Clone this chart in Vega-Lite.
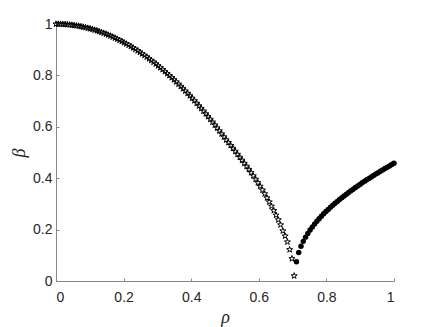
{
  "$schema": "https://vega.github.io/schema/vega-lite/v6.json",
  "width": 338,
  "height": 257,
  "autosize": {"type": "none"},
  "padding": {"left": 56, "top": 24, "right": 42, "bottom": 46},
  "background": "white",
  "config": {
    "view": {"stroke": null},
    "axis": {
      "grid": false,
      "domainColor": "#888888",
      "domainWidth": 1,
      "tickColor": "#888888",
      "tickSize": -3,
      "tickWidth": 1,
      "labelFont": "Liberation Sans",
      "labelFontSize": 14,
      "labelColor": "#262626",
      "titleFont": "Liberation Serif",
      "titleFontStyle": "italic",
      "titleFontWeight": "normal",
      "titleFontSize": 18,
      "titleColor": "#262626"
    }
  },
  "data": {"values": [
    {"r":0,"b":1,"s":"star"},{"r":0.0067,"b":1.0,"s":"star"},{"r":0.0134,"b":0.9997,"s":"star"},{"r":0.0201,"b":0.9993,"s":"star"},{"r":0.0268,"b":0.9987,"s":"star"},{"r":0.0336,"b":0.998,"s":"star"},{"r":0.0403,"b":0.9971,"s":"star"},{"r":0.047,"b":0.9961,"s":"star"},{"r":0.0537,"b":0.9949,"s":"star"},{"r":0.0604,"b":0.9935,"s":"star"},
    {"r":0.0671,"b":0.992,"s":"star"},{"r":0.0738,"b":0.9903,"s":"star"},{"r":0.0805,"b":0.9885,"s":"star"},{"r":0.0872,"b":0.9865,"s":"star"},{"r":0.094,"b":0.9843,"s":"star"},{"r":0.1007,"b":0.982,"s":"star"},{"r":0.1074,"b":0.9795,"s":"star"},{"r":0.1141,"b":0.9768,"s":"star"},{"r":0.1208,"b":0.974,"s":"star"},{"r":0.1275,"b":0.9711,"s":"star"},
    {"r":0.1342,"b":0.9679,"s":"star"},{"r":0.1409,"b":0.9646,"s":"star"},{"r":0.1477,"b":0.9612,"s":"star"},{"r":0.1544,"b":0.9576,"s":"star"},{"r":0.1611,"b":0.9538,"s":"star"},{"r":0.1678,"b":0.9499,"s":"star"},{"r":0.1745,"b":0.9458,"s":"star"},{"r":0.1812,"b":0.9416,"s":"star"},{"r":0.1879,"b":0.9371,"s":"star"},{"r":0.1946,"b":0.9326,"s":"star"},
    {"r":0.2013,"b":0.9278,"s":"star"},{"r":0.2081,"b":0.9229,"s":"star"},{"r":0.2148,"b":0.9179,"s":"star"},{"r":0.2215,"b":0.9127,"s":"star"},{"r":0.2282,"b":0.9073,"s":"star"},{"r":0.2349,"b":0.9018,"s":"star"},{"r":0.2416,"b":0.8961,"s":"star"},{"r":0.2483,"b":0.8902,"s":"star"},{"r":0.255,"b":0.8842,"s":"star"},{"r":0.2617,"b":0.8781,"s":"star"},
    {"r":0.2685,"b":0.8717,"s":"star"},{"r":0.2752,"b":0.8652,"s":"star"},{"r":0.2819,"b":0.8586,"s":"star"},{"r":0.2886,"b":0.8518,"s":"star"},{"r":0.2953,"b":0.8448,"s":"star"},{"r":0.302,"b":0.8376,"s":"star"},{"r":0.3087,"b":0.8303,"s":"star"},{"r":0.3154,"b":0.8229,"s":"star"},{"r":0.3221,"b":0.8153,"s":"star"},{"r":0.3289,"b":0.8075,"s":"star"},
    {"r":0.3356,"b":0.7996,"s":"star"},{"r":0.3423,"b":0.7915,"s":"star"},{"r":0.349,"b":0.7832,"s":"star"},{"r":0.3557,"b":0.7748,"s":"star"},{"r":0.3624,"b":0.7662,"s":"star"},{"r":0.3691,"b":0.7575,"s":"star"},{"r":0.3758,"b":0.7486,"s":"star"},{"r":0.3826,"b":0.7395,"s":"star"},{"r":0.3893,"b":0.7303,"s":"star"},{"r":0.396,"b":0.7209,"s":"star"},
    {"r":0.4027,"b":0.7114,"s":"star"},{"r":0.4094,"b":0.7017,"s":"star"},{"r":0.4161,"b":0.6918,"s":"star"},{"r":0.4228,"b":0.6818,"s":"star"},{"r":0.4295,"b":0.6716,"s":"star"},{"r":0.4362,"b":0.6613,"s":"star"},{"r":0.443,"b":0.6507,"s":"star"},{"r":0.4497,"b":0.6401,"s":"star"},{"r":0.4564,"b":0.6293,"s":"star"},{"r":0.4631,"b":0.6183,"s":"star"},
    {"r":0.4698,"b":0.6071,"s":"star"},{"r":0.4765,"b":0.5958,"s":"star"},{"r":0.4832,"b":0.5844,"s":"star"},{"r":0.4899,"b":0.5727,"s":"star"},{"r":0.4966,"b":0.561,"s":"star"},{"r":0.5034,"b":0.549,"s":"star"},{"r":0.5101,"b":0.5389,"s":"star"},{"r":0.5168,"b":0.5276,"s":"star"},{"r":0.5235,"b":0.5162,"s":"star"},{"r":0.5302,"b":0.5046,"s":"star"},
    {"r":0.5369,"b":0.4929,"s":"star"},{"r":0.5436,"b":0.4815,"s":"star"},{"r":0.5503,"b":0.4699,"s":"star"},{"r":0.557,"b":0.4582,"s":"star"},{"r":0.5638,"b":0.4463,"s":"star"},{"r":0.5705,"b":0.4342,"s":"star"},{"r":0.5772,"b":0.422,"s":"star"},{"r":0.5839,"b":0.4091,"s":"star"},{"r":0.5906,"b":0.3961,"s":"star"},{"r":0.5973,"b":0.3824,"s":"star"},
    {"r":0.604,"b":0.3686,"s":"star"},{"r":0.6107,"b":0.3541,"s":"star"},{"r":0.6174,"b":0.3394,"s":"star"},{"r":0.6242,"b":0.3235,"s":"star"},{"r":0.6309,"b":0.3076,"s":"star"},{"r":0.6376,"b":0.2909,"s":"star"},{"r":0.6443,"b":0.2741,"s":"star"},{"r":0.651,"b":0.2561,"s":"star"},{"r":0.6577,"b":0.238,"s":"star"},{"r":0.6644,"b":0.2185,"s":"star"},
    {"r":0.6711,"b":0.195,"s":"star"},{"r":0.6779,"b":0.175,"s":"star"},{"r":0.6846,"b":0.152,"s":"star"},{"r":0.6913,"b":0.122,"s":"star"},{"r":0.698,"b":0.087,"s":"star"},{"r":0.7047,"b":0.02,"s":"star"},
    {"r":0.7114,"b":0.0752,"s":"dot"},{"r":0.7181,"b":0.1108,"s":"dot"},{"r":0.7248,"b":0.1349,"s":"dot"},{"r":0.7315,"b":0.1542,"s":"dot"},{"r":0.7383,"b":0.1707,"s":"dot"},{"r":0.745,"b":0.1853,"s":"dot"},{"r":0.7517,"b":0.1984,"s":"dot"},{"r":0.7584,"b":0.2106,"s":"dot"},{"r":0.7651,"b":0.2219,"s":"dot"},{"r":0.7718,"b":0.2325,"s":"dot"},
    {"r":0.7785,"b":0.2426,"s":"dot"},{"r":0.7852,"b":0.2521,"s":"dot"},{"r":0.7919,"b":0.2613,"s":"dot"},{"r":0.7987,"b":0.2701,"s":"dot"},{"r":0.8054,"b":0.2785,"s":"dot"},{"r":0.8121,"b":0.2867,"s":"dot"},{"r":0.8188,"b":0.2946,"s":"dot"},{"r":0.8255,"b":0.3022,"s":"dot"},{"r":0.8322,"b":0.3097,"s":"dot"},{"r":0.8389,"b":0.317,"s":"dot"},
    {"r":0.8456,"b":0.3241,"s":"dot"},{"r":0.8523,"b":0.331,"s":"dot"},{"r":0.8591,"b":0.3378,"s":"dot"},{"r":0.8658,"b":0.3445,"s":"dot"},{"r":0.8725,"b":0.351,"s":"dot"},{"r":0.8792,"b":0.3574,"s":"dot"},{"r":0.8859,"b":0.3637,"s":"dot"},{"r":0.8926,"b":0.3698,"s":"dot"},{"r":0.8993,"b":0.3759,"s":"dot"},{"r":0.906,"b":0.3819,"s":"dot"},
    {"r":0.9128,"b":0.3877,"s":"dot"},{"r":0.9195,"b":0.3936,"s":"dot"},{"r":0.9262,"b":0.3993,"s":"dot"},{"r":0.9329,"b":0.4049,"s":"dot"},{"r":0.9396,"b":0.4105,"s":"dot"},{"r":0.9463,"b":0.416,"s":"dot"},{"r":0.953,"b":0.4215,"s":"dot"},{"r":0.9597,"b":0.4269,"s":"dot"},{"r":0.9664,"b":0.4322,"s":"dot"},{"r":0.9732,"b":0.4374,"s":"dot"},
    {"r":0.9799,"b":0.4427,"s":"dot"},{"r":0.9866,"b":0.4478,"s":"dot"},{"r":0.9933,"b":0.4529,"s":"dot"},{"r":1.0,"b":0.458,"s":"dot"}
  ]},
  "encoding": {
    "x": {
      "field": "r", "type": "quantitative",
      "scale": {"domain": [0, 1], "nice": false, "zero": false},
      "axis": {"title": "ρ", "values": [0, 0.2, 0.4, 0.6, 0.8, 1], "format": ".1~f", "labelPadding": 12, "titlePadding": 4}
    },
    "y": {
      "field": "b", "type": "quantitative",
      "scale": {"domain": [0, 1], "nice": false, "zero": false},
      "axis": {"title": "β", "values": [0, 0.2, 0.4, 0.6, 0.8, 1], "format": ".1~f", "labelPadding": 7, "titlePadding": 4}
    }
  },
  "layer": [
    {
      "transform": [{"filter": "datum.s == 'star'"}],
      "mark": {"type": "point", "shape": "M0,-1L0.2245,-0.309L0.9511,-0.309L0.3633,0.118L0.5878,0.809L0,0.382L-0.5878,0.809L-0.3633,0.118L-0.9511,-0.309L-0.2245,-0.309Z", "filled": false, "stroke": "black", "strokeWidth": 1, "opacity": 1, "size": 40}
    },
    {
      "transform": [{"filter": "datum.s == 'dot'"}],
      "mark": {"type": "point", "shape": "circle", "filled": true, "color": "black", "opacity": 1, "size": 30}
    }
  ]
}
